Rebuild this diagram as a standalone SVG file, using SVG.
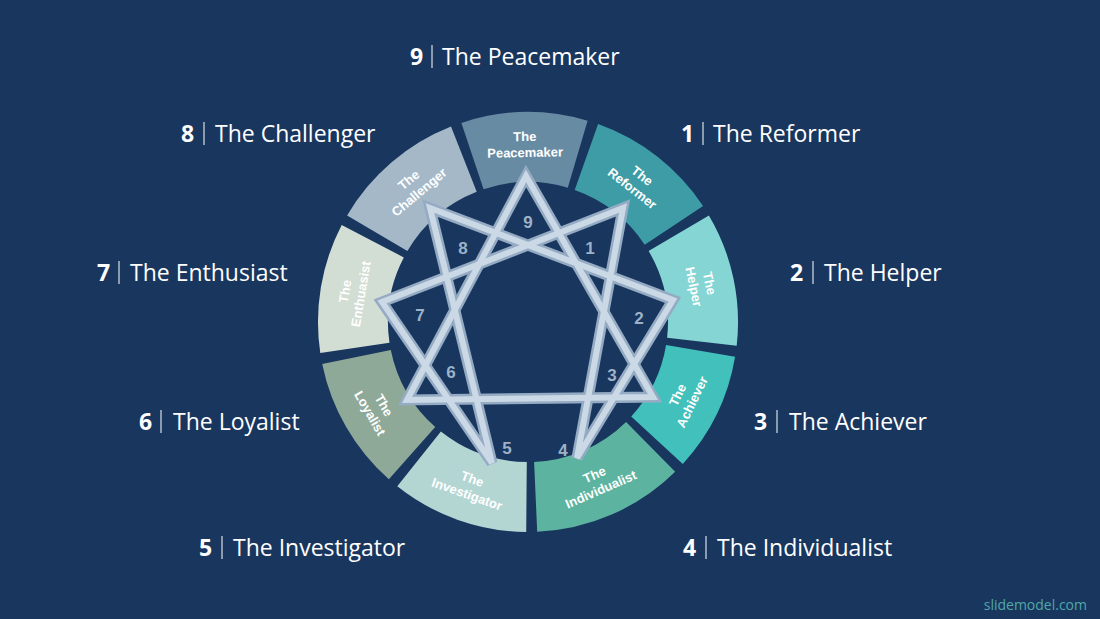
<svg xmlns="http://www.w3.org/2000/svg" width="1100" height="619" viewBox="0 0 1100 619">
<style>
.seg text{font-family:"Liberation Sans",Arial,sans-serif;font-weight:bold;font-size:13px;fill:#fff;text-anchor:middle}
.num{font-family:"Liberation Sans",Arial,sans-serif;font-weight:bold;font-size:17px;fill:#9db2c8;text-anchor:middle}
.lbl{font-family:"Open Sans","Noto Sans",sans-serif;font-size:23px;fill:#fff}
.lbl .n{font-weight:bold}
.bar{stroke:#fff;stroke-width:1}
.band{fill:none;stroke:#94abc3;stroke-width:11;stroke-linejoin:miter}
.hi{fill:none;stroke:#cbd8e5;stroke-width:6;stroke-linejoin:miter}
</style>
<rect width="1100" height="619" fill="#19365e"/>
<g id="ring">
<g id="seg9" class="seg"><path d="M461.4,122.9 A210,210 0 0 1 587.6,120.7 L567.8,187.8 A140,140 0 0 0 483.6,189.2 Z" fill="#678ba3"/><text transform="translate(525,147) rotate(-1)"><tspan x="0" y="-6">The</tspan><tspan x="0" y="10">Peacemaker</tspan></text></g>
<g id="seg1" class="seg"><path d="M598.1,124.1 A210,210 0 0 1 703.1,206.1 L644.7,244.7 A140,140 0 0 0 574.7,190.0 Z" fill="#3d9ca6"/><text transform="translate(635.7,184.1) rotate(38)"><tspan x="0" y="-6">The</tspan><tspan x="0" y="10">Reformer</tspan></text></g>
<g id="seg2" class="seg"><path d="M708.9,215.4 A210,210 0 0 1 736.7,345.8 L667.1,337.8 A140,140 0 0 0 648.6,250.9 Z" fill="#84d5d3"/><text transform="translate(699.2,285.6) rotate(78)"><tspan x="0" y="-6">The</tspan><tspan x="0" y="10">Helper</tspan></text></g>
<g id="seg3" class="seg"><path d="M735.1,356.7 A210,210 0 0 1 682.8,463.9 L631.2,416.6 A140,140 0 0 0 666.1,345.1 Z" fill="#42c0bb"/><text transform="translate(685.3,398.7) rotate(-64)"><tspan x="0" y="-4">The</tspan><tspan x="0" y="12">Achiever</tspan></text></g>
<g id="seg4" class="seg"><path d="M675.2,471.8 A210,210 0 0 1 537.2,531.8 L534.1,461.9 A140,140 0 0 0 626.1,421.9 Z" fill="#5cb4a0"/><text transform="translate(597.8,482.5) rotate(-23.5)"><tspan x="0" y="-4">The</tspan><tspan x="0" y="12">Individualist</tspan></text></g>
<g id="seg5" class="seg"><path d="M526.2,532.0 A210,210 0 0 1 397.3,486.3 L440.9,431.6 A140,140 0 0 0 526.8,462.0 Z" fill="#b4d6d3"/><text transform="translate(469.6,487) rotate(19.5)"><tspan x="0" y="-4">The</tspan><tspan x="0" y="12">Investigator</tspan></text></g>
<g id="seg6" class="seg"><path d="M388.9,479.3 A210,210 0 0 1 322.2,363.9 L390.8,349.9 A140,140 0 0 0 435.2,426.9 Z" fill="#8ea998"/><text transform="translate(376.5,409.5) rotate(60)"><tspan x="0" y="-4">The</tspan><tspan x="0" y="12">Loyalist</tspan></text></g>
<g id="seg7" class="seg"><path d="M320.3,353.0 A210,210 0 0 1 341.7,225.0 L403.8,257.4 A140,140 0 0 0 389.5,342.7 Z" fill="#d2ddd4"/><text transform="translate(355.4,293.1) rotate(-80.5)"><tspan x="0" y="-6">The</tspan><tspan x="0" y="10">Enthuasist</tspan></text></g>
<g id="seg8" class="seg"><path d="M347.1,215.4 A210,210 0 0 1 451.0,126.6 L476.7,191.7 A140,140 0 0 0 407.4,250.9 Z" fill="#a4b8c8"/><text transform="translate(415.5,188) rotate(-40)"><tspan x="0" y="-6">The</tspan><tspan x="0" y="10">Challenger</tspan></text></g>
</g>
<g id="connectors">
<polygon class="band" points="526,176 653,397 407,400"/>
<polygon class="band" points="623,208 577,458 673,300 430,208 492,463 382,302"/>
<polygon class="hi" points="526,176 653,397 407,400"/>
<polygon class="hi" points="623,208 577,458 673,300 430,208 492,463 382,302"/>
</g>
<g id="starnums">
<text class="num" x="528" y="228">9</text>
<text class="num" x="590" y="254">1</text>
<text class="num" x="639" y="324">2</text>
<text class="num" x="612" y="381">3</text>
<text class="num" x="563" y="456">4</text>
<text class="num" x="507" y="454">5</text>
<text class="num" x="451" y="378">6</text>
<text class="num" x="420" y="321">7</text>
<text class="num" x="463" y="254">8</text>
</g>
<g id="labels">
<g id="l9"><text class="lbl" x="410" y="65"><tspan class="n">9</tspan></text><line class="bar" x1="432" y1="45" x2="432" y2="68"/><text class="lbl" x="442" y="65">The Peacemaker</text></g>
<g id="l8"><text class="lbl" x="181" y="142"><tspan class="n">8</tspan></text><line class="bar" x1="204" y1="122" x2="204" y2="145"/><text class="lbl" x="215" y="142">The Challenger</text></g>
<g id="l1"><text class="lbl" x="681" y="142"><tspan class="n">1</tspan></text><line class="bar" x1="703" y1="122" x2="703" y2="145"/><text class="lbl" x="713" y="142">The Reformer</text></g>
<g id="l7"><text class="lbl" x="97" y="281"><tspan class="n">7</tspan></text><line class="bar" x1="119" y1="261" x2="119" y2="284"/><text class="lbl" x="130" y="281">The Enthusiast</text></g>
<g id="l2"><text class="lbl" x="790" y="281"><tspan class="n">2</tspan></text><line class="bar" x1="813" y1="261" x2="813" y2="284"/><text class="lbl" x="824" y="281">The Helper</text></g>
<g id="l6"><text class="lbl" x="139" y="430"><tspan class="n">6</tspan></text><line class="bar" x1="161" y1="410" x2="161" y2="433"/><text class="lbl" x="173" y="430">The Loyalist</text></g>
<g id="l3"><text class="lbl" x="754" y="430"><tspan class="n">3</tspan></text><line class="bar" x1="777" y1="410" x2="777" y2="433"/><text class="lbl" x="789" y="430">The Achiever</text></g>
<g id="l5"><text class="lbl" x="199" y="556"><tspan class="n">5</tspan></text><line class="bar" x1="222" y1="536" x2="222" y2="559"/><text class="lbl" x="233" y="556">The Investigator</text></g>
<g id="l4"><text class="lbl" x="683" y="556"><tspan class="n">4</tspan></text><line class="bar" x1="706" y1="536" x2="706" y2="559"/><text class="lbl" x="717" y="556">The Individualist</text></g>
</g>
<text x="1087" y="610" text-anchor="end" style="font-family:'Open Sans','Noto Sans',sans-serif;font-size:14px;fill:#4fa8a8">slidemodel.com</text>
</svg>
